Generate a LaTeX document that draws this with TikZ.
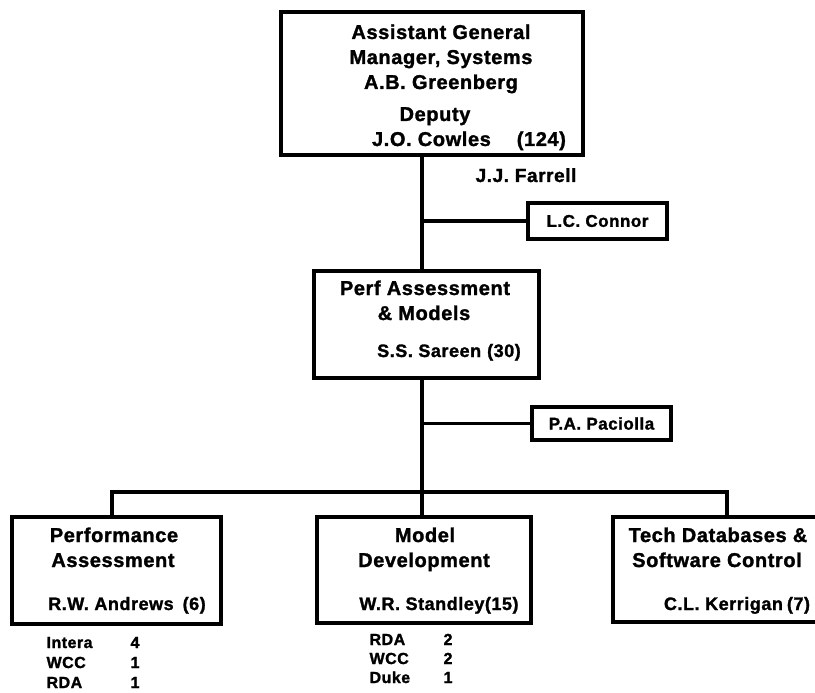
\documentclass[tikz,border=0pt]{standalone}
\usepackage{fontspec}
\setmainfont{Liberation Sans}[BoldFont = {Liberation Sans Bold}, BoldFeatures = {FakeBold=1.5}, LetterSpace=3]
\usetikzlibrary{positioning,calc}

\begin{document}
\begin{tikzpicture}
[x=1pt,y=-1pt,line width=3.2pt,
unit/.style = {draw, rectangle, inner sep = 0pt},
title/.style = {inner sep = 0pt, anchor = base, font = \fontsize{20}{24}\selectfont\bfseries},
who/.style = {inner sep = 0pt, anchor = base, font = \fontsize{18}{22}\selectfont\bfseries},
staff/.style = {inner sep = 0pt, anchor = base west, font = \fontsize{16}{19}\selectfont\bfseries},]
\useasboundingbox (0,0) rectangle (815,693);
\clip (0,0) rectangle (815,693);
% boxes
\node (agm) at (432,83.5)[unit,minimum width=302pt,minimum height=143pt] {};
\node (perf) at (426.5,324.5)[unit,minimum width=225pt,minimum height=107pt] {};
\node (connor) at (597.5,221)[unit,minimum width=139pt,minimum height=36pt,font=\fontsize{17}{20}\selectfont\bfseries] {L.C. Connor};
\node (paciolla) at (601.5,423.5)[unit,minimum width=139pt,minimum height=33pt,font=\fontsize{17}{20}\selectfont\bfseries] {P.A. Paciolla};
\node (perfas) at (116.5,570.5)[unit,minimum width=209pt,minimum height=107pt] {};
\node (modeldev) at (424,570)[unit,minimum width=214pt,minimum height=106pt] {};
\node (techdb) at (727,569.5)[unit,minimum width=228pt,minimum height=105pt] {};
\coordinate (trunk) at (422,0);
\coordinate (bus) at (0,492);
% texts
\node (agm-t1) at (441,39)[title] {Assistant General};
\node (agm-t2) at (441,64)[title] {Manager, Systems};
\node (agm-t3) at (441,89)[title] {A.B. Greenberg};
\node (agm-t4) at (435,121)[title] {Deputy};
\node (agm-n) at (469,146)[title] {J.O. Cowles\hspace{26pt}(124)};
\node (farrell) at (526,182)[who,font=\fontsize{19}{22}\selectfont\bfseries] {J.J. Farrell};
\node (perf-t1) at (425,295)[title] {Perf Assessment};
\node (perf-t2) at (424,320)[title] {\& Models};
\node (perf-n) at (449,357)[who] {S.S. Sareen\hspace{6pt}(30)};
\node (perfas-t1) at (114,542)[title] {Performance};
\node (perfas-t2) at (113,567)[title] {Assessment};
\node (perfas-n) at (127,610)[who] {R.W. Andrews\hspace{9pt}(6)};
\node (modeldev-t1) at (425,542)[title] {Model};
\node (modeldev-t2) at (424,567)[title] {Development};
\node (modeldev-n) at (439,610)[who] {W.R. Standley(15)};
\node (techdb-t1) at (718,542)[title] {Tech Databases \&};
\node (techdb-t2) at (717,567)[title] {Software Control};
\node (techdb-n) at (737,610)[who] {C.L. Kerrigan\hspace{4pt}(7)};
% staff lists
\foreach \name/\num/\y in {Intera/4/648, WCC/1/668, RDA/1/688}
  \node at (45,\y)[staff] {\name};
\foreach \name/\num/\y in {Intera/4/648, WCC/1/668, RDA/1/688}
  \node at (129,\y)[staff] {\num};
\foreach \name/\num/\y in {RDA/2/645, WCC/2/664, Duke/1/683}
  \node at (368,\y)[staff] {\name};
\foreach \name/\num/\y in {RDA/2/645, WCC/2/664, Duke/1/683}
  \node at (442,\y)[staff] {\num};
% connectors
\draw (agm.south -| trunk)--(perf.north -| trunk);
\draw (trunk |- connor.west)--(connor.west);
\draw (perf.south -| trunk)--(modeldev.north -| trunk);
\draw (trunk |- paciolla.west)--(paciolla.west);
\draw ([xshift=-4.5pt]perfas.north)--([xshift=-4.5pt]perfas.north |- bus)--(techdb.north |- bus)--(techdb.north);
\end{tikzpicture}
\end{document}
